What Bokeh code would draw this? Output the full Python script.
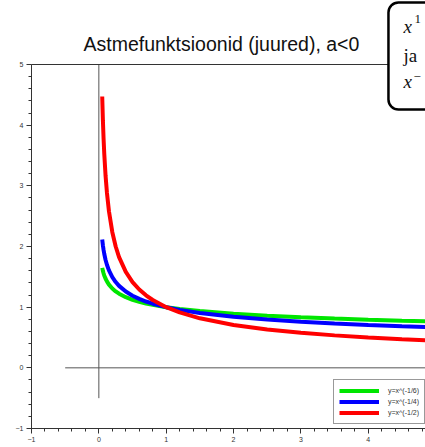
from bokeh.plotting import figure
from bokeh.models import FixedTicker, Legend, LegendItem, Label, Span, Range1d
from bokeh.embed import file_html
from bokeh.resources import INLINE

# sample points of the three curves
x_vals = [0.05, 0.06, 0.07, 0.08, 0.1, 0.12, 0.15, 0.2, 0.25, 0.3, 0.4, 0.5, 0.6,
          0.7, 0.8, 1.0, 1.2, 1.5, 2.0, 2.5, 3.0, 3.5, 4.0, 4.5, 5.0]
y_green = [1.647, 1.598, 1.558, 1.523, 1.468, 1.424, 1.372, 1.308, 1.260, 1.222, 1.165,
           1.122, 1.089, 1.061, 1.038, 1.0, 0.970, 0.935, 0.891, 0.858, 0.833, 0.812,
           0.794, 0.778, 0.765]
y_blue = [2.115, 2.020, 1.944, 1.880, 1.778, 1.699, 1.607, 1.495, 1.414, 1.351, 1.257,
          1.189, 1.136, 1.093, 1.057, 1.0, 0.955, 0.904, 0.841, 0.795, 0.760, 0.731,
          0.707, 0.687, 0.669]
y_red = [4.472, 4.082, 3.780, 3.536, 3.162, 2.887, 2.582, 2.236, 2.0, 1.826, 1.581,
         1.414, 1.291, 1.195, 1.118, 1.0, 0.913, 0.816, 0.707, 0.632, 0.577, 0.535,
         0.5, 0.471, 0.447]
series_labels = ["y=x^(-1/6)", "y=x^(-1/4)", "y=x^(-1/2)"]
series_colors = ["#00e600", "#0000ff", "#ff0000"]
x_ticks = [-1, 0, 1, 2, 3, 4, 5]
y_ticks = [-1, 0, 1, 2, 3, 4, 5]
title_text = "Astmefunktsioonid (juured), a<0"
# coordinate cross (x0, y0, x1, y1)
cross_x0 = [0, -0.5]
cross_y0 = [-0.5, 0]
cross_x1 = [0, 5]
cross_y1 = [5, 0]

# the frame covers the whole area above the x axis so the title and the
# formula box can be drawn in it; the y axis itself is bounded to [-1, 5]
p = figure(width=425, height=447, output_backend="svg", toolbar_location=None,
           x_range=Range1d(-1, 4.85), y_range=Range1d(-1, 6.055),
           min_border_left=31, min_border_right=0, min_border_top=0,
           min_border_bottom=19)
p.outline_line_color = None
p.grid.visible = False
p.background_fill_color = "white"
p.border_fill_color = "white"

minor_x = [t / 5 for t in range(-5, 30)]
minor_y = [t / 5 for t in range(-5, 26)]
p.xaxis.ticker = FixedTicker(ticks=x_ticks, minor_ticks=minor_x)
p.yaxis.ticker = FixedTicker(ticks=y_ticks, minor_ticks=minor_y)
p.yaxis.bounds = (-1, 5)
for ax in (p.xaxis[0], p.yaxis[0]):
    ax.axis_line_color = "#333333"
    ax.major_tick_line_color = "#333333"
    ax.minor_tick_line_color = "#333333"
    ax.major_tick_out = 5
    ax.major_tick_in = 0
    ax.minor_tick_out = 3
    ax.minor_tick_in = 0
    ax.major_label_text_font = "Liberation Sans"
    ax.major_label_text_font_size = "7px"
    ax.major_label_text_color = "#333333"
    ax.major_label_standoff = 3

p.add_layout(Label(x=-0.228, y=5.33, text=title_text, text_font="Liberation Sans",
                   text_font_size="19.5px", text_color="#111111", text_align="left",
                   text_baseline="alphabetic"))

p.add_layout(Span(location=5, dimension="width", line_color="#333333", line_width=1))

p.segment(x0=cross_x0, y0=cross_y0, x1=cross_x1, y1=cross_y1,
          line_color="#555555", line_width=1)

renderers = []
for ys, col in zip([y_green, y_blue, y_red], series_colors):
    r = p.line(x_vals, ys, line_color=col, line_width=4)
    renderers.append(r)

legend = Legend(items=[LegendItem(label=l, renderers=[r]) for l, r in zip(series_labels, renderers)],
                location=(302, 4))
legend.glyph_width = 40
legend.glyph_height = 11
legend.label_height = 11
legend.spacing = 0
legend.padding = 5
legend.margin = 0
legend.label_standoff = 9
legend.label_text_font = "Liberation Sans"
legend.label_text_font_size = "7px"
legend.label_text_color = "#333333"
legend.border_line_color = "#333333"
legend.border_line_width = 1
legend.background_fill_alpha = 1
p.add_layout(legend, "center")

# rounded formula box in the top-right corner (empty label used as the frame)
box = Label(x=4.30, y=6.022, text="\u00a0", text_font_size="10px", text_align="left",
            text_baseline="top", border_line_color="black", border_line_width=2.5,
            border_radius=10, background_fill_color="white",
            padding=dict(left=10, right=60, top=48, bottom=48))
p.add_layout(box)
serif = "Liberation Serif"
for txt, tx, ty, size, style in [("x", 4.523, 5.626, "19px", "italic"),
                                 ("1", 4.687, 5.758, "13px", "normal"),
                                 ("ja", 4.523, 5.148, "19px", "normal"),
                                 ("x", 4.523, 4.719, "19px", "italic"),
                                 ("\u2212", 4.672, 4.802, "13px", "normal")]:
    p.add_layout(Label(x=tx, y=ty, text=txt, text_font=serif, text_font_size=size,
                       text_font_style=style, text_align="left",
                       text_baseline="alphabetic", text_color="#111111"))

open("out.html", "w").write(file_html(p, INLINE))
